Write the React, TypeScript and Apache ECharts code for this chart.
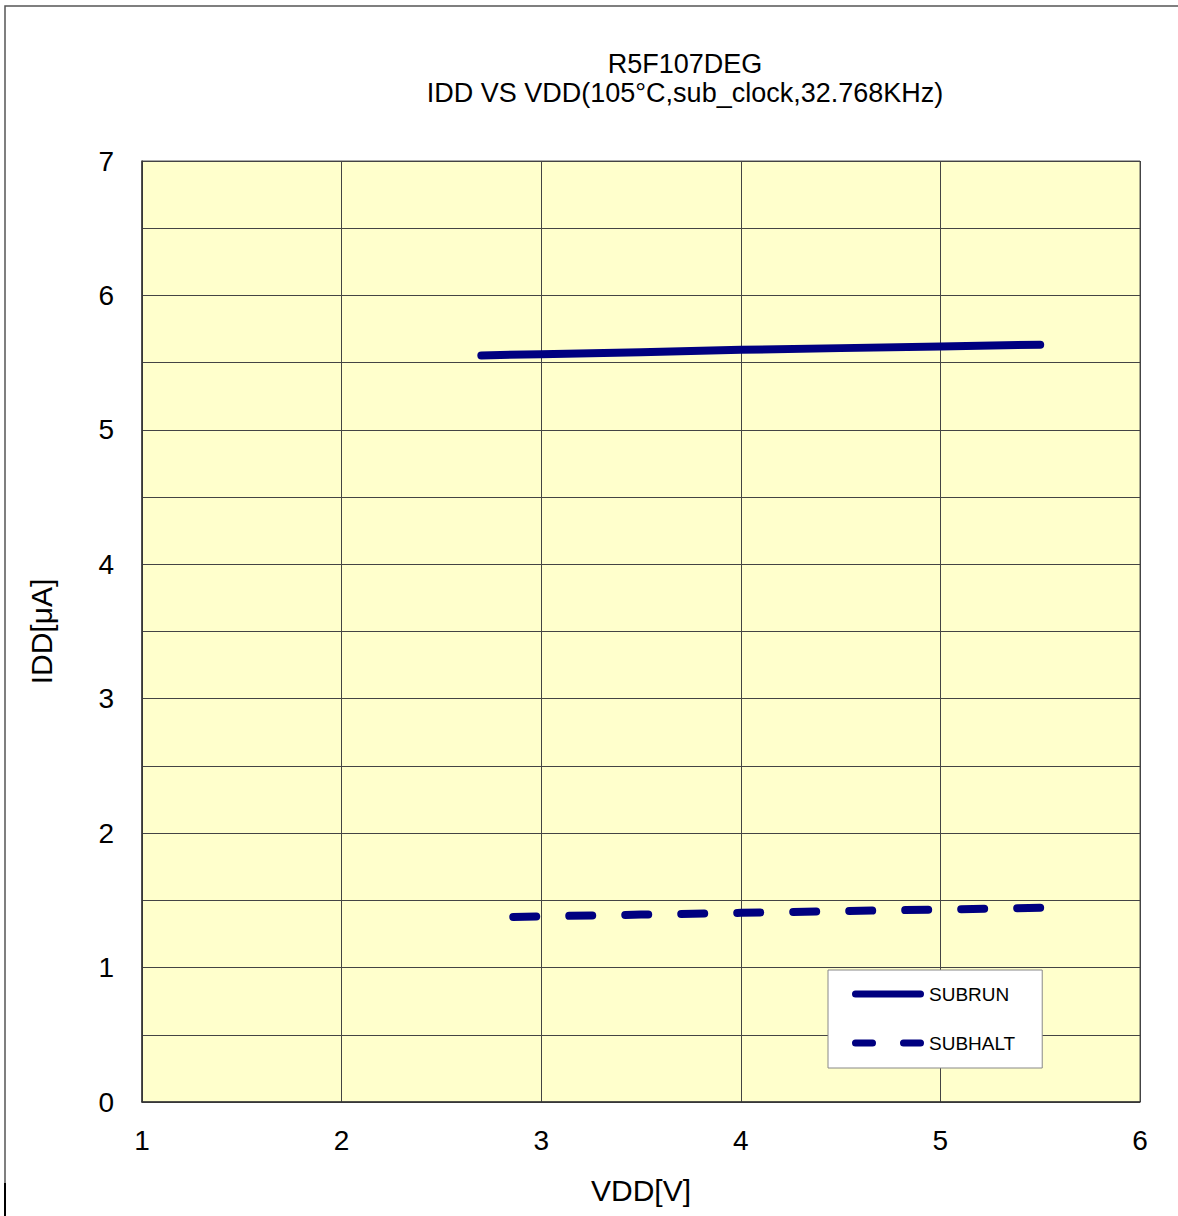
import React, { useEffect, useRef } from "react";
import * as echarts from "echarts";

const titleLines = ["R5F107DEG", "IDD VS VDD(105°C,sub_clock,32.768KHz)"];
const xName = "VDD[V]";
const yName = "IDD[μA]";
const seriesNames = ["SUBRUN", "SUBHALT"];

const subrunX = [2.7, 3.0, 3.5, 4.0, 4.5, 5.0, 5.5];
const subrunY = [5.554, 5.563, 5.578, 5.595, 5.608, 5.621, 5.634];

const subhaltX = [2.86, 3.0, 3.5, 4.0, 4.5, 5.0, 5.5];
const subhaltY = [1.377, 1.381, 1.394, 1.407, 1.42, 1.432, 1.445];

const FONT = "'Liberation Sans', Arial, sans-serif";
const NAVY = "#000080";

const SOLID_ICON = "path://M3.5,0H68.5A3.5,3.5 0 0 1 68.5,7H3.5A3.5,3.5 0 0 1 3.5,0Z";
const DASH_ICON =
  "path://M3.5,0H20.5A3.5,3.5 0 0 1 20.5,7H3.5A3.5,3.5 0 0 1 3.5,0Z M51.5,0H68.5A3.5,3.5 0 0 1 68.5,7H51.5A3.5,3.5 0 0 1 51.5,0Z";

export default function App() {
  const ref = useRef<HTMLDivElement>(null);
  useEffect(() => {
    if (!ref.current) return;
    const chart = echarts.init(ref.current, undefined, { renderer: "svg" });
    chart.setOption({
      animation: false,
      backgroundColor: "#ffffff",
      title: {
        text: titleLines.join("\n"),
        left: 680,
        textAlign: "center",
        top: 44,
        textStyle: { fontFamily: FONT, fontSize: 27, fontWeight: "normal", color: "#000", lineHeight: 29 },
      },
      grid: { left: 142, top: 161, right: 38, bottom: 114, show: true, backgroundColor: "#FFFFCC", borderColor: "#555", borderWidth: 1 },
      xAxis: {
        type: "value",
        min: 1,
        max: 6,
        interval: 1,
        name: xName,
        nameLocation: "middle",
        nameGap: 73,
        nameTextStyle: { fontFamily: FONT, fontSize: 30, color: "#000" },
        axisLine: { show: true, lineStyle: { color: "#333", width: 1.5 } },
        axisTick: { show: false },
        axisLabel: { fontFamily: FONT, fontSize: 28, color: "#000", margin: 24 },
        splitLine: { show: true, lineStyle: { color: "#444", width: 1 } },
      },
      yAxis: {
        type: "value",
        min: 0,
        max: 7,
        interval: 1,
        name: yName,
        nameLocation: "middle",
        nameGap: 86,
        nameTextStyle: { fontFamily: FONT, fontSize: 30, color: "#000" },
        axisLine: { show: true, lineStyle: { color: "#333", width: 1.5 } },
        axisTick: { show: false },
        minorTick: { show: false, splitNumber: 2 },
        minorSplitLine: { show: true, lineStyle: { color: "#444", width: 1 } },
        axisLabel: { fontFamily: FONT, fontSize: 28, color: "#000", margin: 28 },
        splitLine: { show: true, lineStyle: { color: "#444", width: 1 } },
      },
      legend: {
        orient: "vertical",
        left: 828,
        top: 970,
        padding: [14, 27, 15, 24],
        itemGap: 29,
        itemWidth: 72,
        itemHeight: 7,
        backgroundColor: "#ffffff",
        borderColor: "#888",
        borderWidth: 1,
        borderRadius: 0,
        textStyle: { fontFamily: FONT, fontSize: 19, color: "#000", lineHeight: 20 },
        data: [
          { name: seriesNames[0], icon: SOLID_ICON },
          { name: seriesNames[1], icon: DASH_ICON },
        ],
      },
      series: [
        {
          name: seriesNames[0],
          type: "line",
          symbol: "none",
          data: subrunX.map((x, i) => [x, subrunY[i]]),
          lineStyle: { color: NAVY, width: 8, cap: "round", join: "round" },
          itemStyle: { color: NAVY },
        },
        {
          name: seriesNames[1],
          type: "line",
          symbol: "none",
          data: subhaltX.map((x, i) => [x, subhaltY[i]]),
          lineStyle: { color: NAVY, width: 8, type: [23, 33], cap: "round", join: "round" },
          itemStyle: { color: NAVY },
        },
      ],
      graphic: [
        { type: "rect", shape: { x: 5, y: 6, width: 1300, height: 1300 }, style: { fill: "none", stroke: "#555", lineWidth: 1.5 }, silent: true, z: -1 },
        { type: "line", shape: { x1: 5, y1: 1183, x2: 5, y2: 1216 }, style: { stroke: "#000", lineWidth: 2 }, silent: true },
      ],
    });
    return () => chart.dispose();
  }, []);
  return <div ref={ref} style={{ position: "fixed", left: 0, top: 0, width: 1178, height: 1216 }} />;
}
